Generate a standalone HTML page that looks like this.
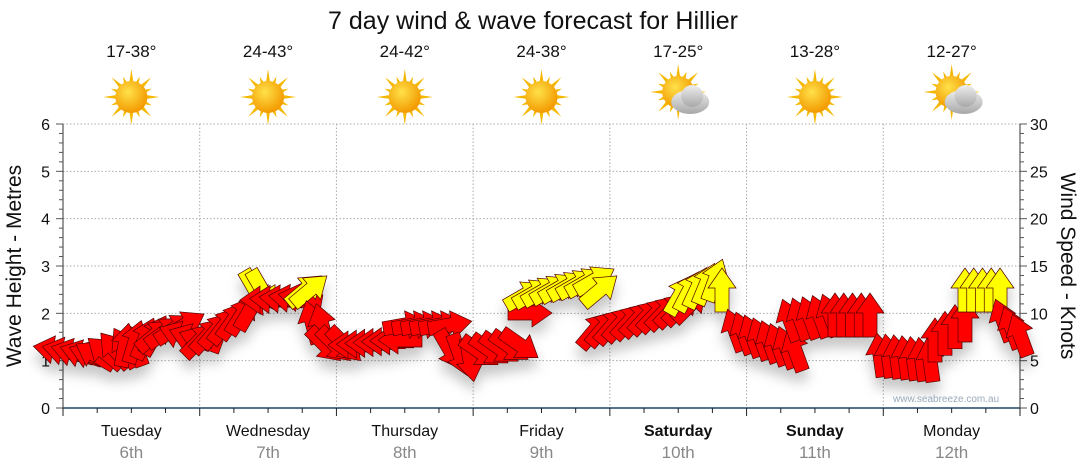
<!DOCTYPE html><html><head><style>body{margin:0;background:#fff}svg{display:block;font-family:"Liberation Sans",sans-serif}</style></head><body>
<svg id="s" width="1080" height="475" viewBox="0 0 1080 475">
<defs>
<radialGradient id="sun" cx="40%" cy="35%" r="65%"><stop offset="0" stop-color="#ffe14a"/><stop offset="1" stop-color="#f39a00"/></radialGradient>
<linearGradient id="cl" x1="0" y1="0" x2="0" y2="1"><stop offset="0" stop-color="#eee"/><stop offset="1" stop-color="#a8a8a8"/></linearGradient>
<filter id="sh" x="-20%" y="-20%" width="140%" height="160%"><feDropShadow dx="0" dy="10" stdDeviation="6" flood-color="#000" flood-opacity="0.22"/></filter>
</defs>
<text x="533" y="29" font-size="25" text-anchor="middle" fill="#111">7 day wind &amp; wave forecast for Hillier</text>
<g id="grid" stroke="#aaa" stroke-dasharray="1.5,2" stroke-width="1"></g>
<g id="ax"></g>
<g id="arr" filter="url(#sh)"></g>
<text x="893" y="402" font-size="10" fill="#9ab">www.seabreeze.com.au</text>
<text transform="translate(21,266) rotate(-90)" font-size="21" text-anchor="middle" fill="#111">Wave Height - Metres</text>
<text transform="translate(1061,266) rotate(90)" font-size="21" text-anchor="middle" fill="#111">Wind Speed - Knots</text>
</svg>
<script>
const S=document.getElementById('s'),G=document.getElementById('grid'),A=document.getElementById('ax'),R=document.getElementById('arr');
const ns='http://www.w3.org/2000/svg';
function el(p,t,a,txt){const e=document.createElementNS(ns,t);for(const k in a)e.setAttribute(k,a[k]);if(txt!=null)e.textContent=txt;p.appendChild(e);return e;}
const X0=63,X1=1020,Y0=408,Y6=124,py=(Y0-Y6)/6,dw=(X1-X0)/7;
for(let i=1;i<=6;i++){el(G,'line',{x1:X0,x2:X1,y1:Y0-i*py,y2:Y0-i*py});el(G,'line',{x1:X0+i*dw,x2:X0+i*dw,y1:Y6,y2:Y0});}
el(A,'line',{x1:X0,x2:X0,y1:Y6,y2:Y0,stroke:'#333'});
el(A,'line',{x1:X1,x2:X1,y1:Y6,y2:Y0,stroke:'#333'});
el(A,'line',{x1:X0,x2:X1,y1:Y0,y2:Y0,stroke:'#246',"stroke-width":1.5});
for(let i=0;i<=30;i++){let y=Y0-i*py/5;el(A,'line',{x1:X0-(i%5?4:7),x2:X0,y1:y,y2:y,stroke:'#555'});}
for(let i=0;i<=30;i++){let y=Y0-i*py/5;el(A,'line',{x1:X1,x2:X1+(i%5?4:7),y1:y,y2:y,stroke:'#555'});}
for(let i=0;i<=6;i++){el(A,'text',{x:50,y:Y0-i*py+6,"font-size":16,"text-anchor":"end",fill:'#111'},i);}
for(let i=0;i<=6;i++){el(A,'text',{x:1030,y:Y0-i*py+6,"font-size":16,fill:'#111'},i*5);}
for(let i=0;i<=28;i++){let x=X0+i*dw/4;el(A,'line',{x1:x,x2:x,y1:Y0,y2:Y0+(i%4?5:8),stroke:'#222'});}
const days=['Tuesday','Wednesday','Thursday','Friday','Saturday','Sunday','Monday'],dn=['6th','7th','8th','9th','10th','11th','12th'];
const temps=['17-38°','24-43°','24-42°','24-38°','17-25°','13-28°','12-27°'],cloud=[0,0,0,0,1,0,1];
days.forEach((d,i)=>{const cx=X0+dw*(i+0.5);
el(S,'text',{x:cx,y:436,"font-size":16,"text-anchor":"middle",fill:'#111',"font-weight":(i==4||i==5)?'bold':'normal'},d);
el(S,'text',{x:cx,y:458,"font-size":17,"text-anchor":"middle",fill:'#888'},dn[i]);
el(S,'text',{x:cx,y:57,"font-size":17,"text-anchor":"middle",fill:'#111'},temps[i]);
const g=el(S,'g',{transform:`translate(${cx},${cloud[i]?92:97})`});
for(let k=0;k<16;k++){const a=k*Math.PI/8,l=k%2?22:28;el(g,'polygon',{points:`${Math.cos(a)*l},${Math.sin(a)*l} ${Math.cos(a+0.2)*12},${Math.sin(a+0.2)*12} ${Math.cos(a-0.2)*12},${Math.sin(a-0.2)*12}`,fill:'#f5b800'});}
el(g,'circle',{r:16,fill:'url(#sun)'});
if(cloud[i]){const c=el(g,'g',{transform:'translate(12,10)'});el(c,'ellipse',{cx:0,cy:0,rx:19,ry:12,fill:'url(#cl)'});el(c,'circle',{cx:2,cy:-6,r:11,fill:'url(#cl)'});}
});
const C=[[55,90,350,355,190,200,'r'],[95,135,355,345,210,250,'r'],[125,155,345,335,280,300,'r'],[155,185,335,325,320,330,'r'],[180,200,335,340,200,200,'r'],[200,250,340,310,315,300,'r'],[255,262,290,290,60,60,'y'],[262,300,300,298,180,190,'r'],[305,310,290,290,320,320,'y'],[312,322,322,325,255,255,'r'],[325,345,345,345,45,45,'r'],[350,400,345,340,180,180,'r'],[405,450,325,325,350,350,'r'],[450,470,350,360,60,80,'r'],[480,520,352,345,35,35,'r'],[530,530,313,313,0,0,'r'],[525,595,295,280,330,330,'y'],[600,600,290,290,320,320,'y'],[595,690,330,305,310,315,'r'],[680,715,295,280,300,290,'y'],[722,722,290,290,270,270,'y'],[735,795,330,350,250,250,'r'],[790,830,320,315,250,250,'r'],[835,870,315,315,270,270,'r'],[880,930,355,360,262,262,'r'],[935,965,340,320,270,270,'r'],[965,1000,290,290,270,270,'y'],[1003,1020,320,335,250,250,'r']];
C.forEach(c=>{const n=Math.max(1,Math.round((c[1]-c[0])/9)+1);for(let k=0;k<n;k++){const t=n==1?0:k/(n-1);const x=c[0]+(c[1]-c[0])*t,y=c[2]+(c[3]-c[2])*t,a=c[4]+(c[5]-c[4])*t;
el(R,'polygon',{points:'-22,-7 2,-7 2,-14 22,0 2,14 2,7 -22,7',transform:`translate(${x},${y}) rotate(${a})`,fill:c[6]=='r'?'#ff0000':'#ffff00',stroke:'#500',"stroke-width":0.7});}});
</script>
</body></html>
